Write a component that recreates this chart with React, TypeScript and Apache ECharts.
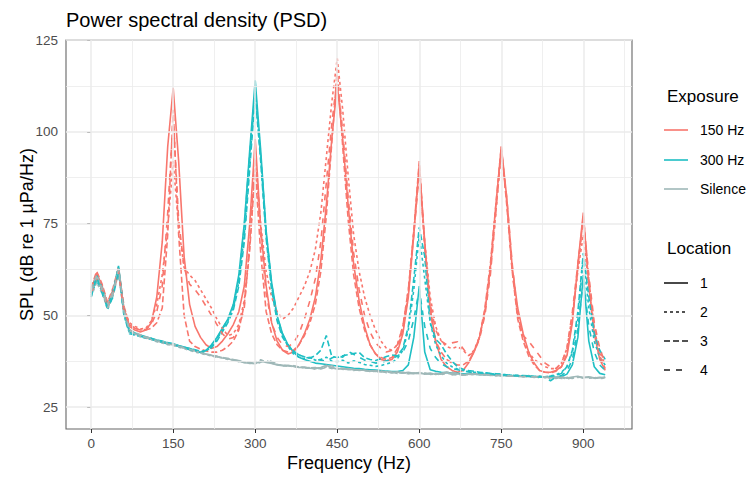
import React, { useEffect, useRef } from "react";
import * as echarts from "echarts";

// Frequency grid (Hz)
const freqHz = [0,10,20,30,40,50,60,70,80,90,100,110,120,130,140,150,160,170,180,190,200,210,220,230,240,250,260,270,280,290,300,310,320,330,340,350,360,370,380,390,400,410,420,430,440,450,460,470,480,490,500,510,520,530,540,550,560,570,580,590,600,610,620,630,640,650,660,670,680,690,700,710,720,730,740,750,760,770,780,790,800,810,820,830,840,850,860,870,880,890,900,910,920,930,940];

const exposures = ["150 Hz", "300 Hz", "Silence"];
const locations = ["1", "2", "3", "4"];

// 150 Hz exposure, SPL (dB re 1 µPa/Hz)
const spl150Loc1 = [
  57, 61.5, 58, 53, 57, 62, 52, 47, 46, 45.5,
  46, 48, 55, 70, 96, 112, 92, 66, 53, 47,
  44, 42, 41, 41.5, 43, 45, 47.5, 51, 58, 75,
  98, 74, 58, 48, 43, 40.5, 39.5, 40, 42, 45,
  49, 55, 65, 80, 98, 113, 98, 80, 64, 54,
  47, 42, 39.5, 38, 37.6, 38, 40, 45, 55, 72,
  91, 70, 52, 43, 38, 36, 35, 34.5, 35, 37,
  40, 44, 51, 63, 80, 96, 82, 63, 52, 45,
  40, 37, 35, 34.5, 34.5, 35, 36, 39, 48, 64,
  78, 58, 45, 38, 35
];
const spl150Loc2 = [
  56.5, 61, 57.5, 52.5, 56.5, 62.5, 51.5, 48, 47, 46.3,
  46.5, 48.5, 53, 61, 74, 92, 74, 63, 61, 59.5,
  57, 54.5, 52, 49, 46.5, 44.5, 45, 47.5, 54, 69,
  92, 75, 62, 55, 51, 49, 50, 52, 55, 58,
  62, 68, 78, 93, 108, 120, 106, 88, 72, 62,
  55, 50, 46, 43, 41, 40.5, 42, 47, 57, 73,
  90, 70, 55, 47, 43, 41.5, 41, 41.5, 40.5, 39,
  40.5, 44, 51, 62, 78, 95, 81, 62, 50, 44,
  40, 38, 37, 36, 35.5, 35.5, 37, 41, 50, 62,
  72, 58, 46, 40, 36.5
];
const spl150Loc3 = [
  57.5, 62, 58.5, 53.5, 57.5, 63, 52.5, 47.5, 46.5, 46,
  46, 46.5, 48, 52, 72, 106, 72, 50, 43, 41.5,
  40.8, 40.3, 40, 40, 40.5, 41.5, 43, 46, 53, 68,
  90, 67, 51, 45, 42, 40.5, 40, 40.5, 42, 44.5,
  48, 53, 62, 77, 97, 117, 96, 76, 61, 52,
  46, 42, 39.5, 38.5, 38, 38.5, 41, 46, 56, 73,
  92, 69, 51, 43, 40, 38, 37, 36.5, 36.5, 37.5,
  40, 44, 52, 64, 80, 96, 80, 62, 49, 43,
  39, 36.5, 35, 34.5, 34.3, 34.8, 36, 39.5, 49, 63,
  77, 60, 46, 39, 35.5
];
const spl150Loc4 = [
  56, 60, 57, 52, 56, 62, 51, 47.5, 46.5, 46,
  46.2, 47.5, 51, 58, 78, 104, 76, 63, 58.5, 57,
  55, 52.5, 50, 47.5, 45, 43.5, 44, 46.5, 52, 70,
  95, 72, 56, 48, 44, 42, 41.5, 42.5, 45, 49,
  54, 60, 70, 86, 102, 115, 100, 82, 67, 57,
  50, 45.5, 42.5, 41, 40, 40.5, 42, 47, 57, 72,
  89, 69, 53, 46, 43, 42, 42.5, 42.8, 41, 39,
  40, 43.5, 50, 61, 78, 95, 82, 64, 50, 44.5,
  43, 41, 39, 37, 36, 35.5, 37, 41, 51, 64,
  76, 61, 48, 41, 37
];

// 300 Hz exposure
const spl300Loc1 = [
  56, 60, 57, 52, 56, 63, 50.5, 45.5, 45, 44.6,
  44.2, 43.7, 43.3, 43, 42.5, 42.3, 41.8, 41.4, 41, 40.5,
  40, 40.5, 42, 44, 46.5, 49, 53, 61, 75, 95,
  114, 95, 73, 59, 50, 45, 42, 40, 38.6, 38,
  37.5, 37, 36.8, 36.6, 36.4, 36.2, 36, 35.8, 35.6, 35.5,
  35.3, 35.2, 35.1, 35, 34.8, 34.7, 34.7, 35, 36.5, 44,
  58, 40, 35.2, 34.8, 34.5, 34.4, 34.3, 34.2, 34.1, 34,
  34, 33.9, 33.9, 33.8, 33.7, 33.7, 33.6, 33.5, 33.5, 33.4,
  33.4, 33.3, 33.3, 33.2, 33.2, 33.1, 33.3, 34, 36.5, 44,
  61, 43, 36, 34.2, 33.8
];
const spl300Loc2 = [
  55.5, 59.5, 56.5, 51.5, 55.5, 62.5, 50, 45.2, 44.6, 44.2,
  43.8, 43.5, 43, 42.6, 42.4, 42, 41.6, 41.2, 40.8, 40.4,
  40, 40.2, 41.5, 43.5, 46, 48.5, 52, 59, 72, 92,
  111, 93, 72, 58, 49.5, 44.5, 41.5, 39.5, 38.6, 38.2,
  38.5, 37.8, 38, 38.6, 37.5, 37.4, 37.8, 37, 37.6, 37.2,
  36.6, 36.4, 36.1, 36.3, 36.8, 37.2, 38.2, 40.5, 46, 57,
  72, 60, 48, 42, 39, 37, 36, 35.4, 35, 34.7,
  34.5, 34.4, 34.3, 34.1, 34, 33.9, 33.8, 33.7, 33.6, 33.5,
  33.4, 33.3, 33.4, 33.3, 33.5, 33.8, 34.5, 36, 40, 49,
  66, 52, 43, 38.5, 36.5
];
const spl300Loc3 = [
  56.5, 61, 57.5, 52.5, 56.5, 63.5, 51, 45.8, 45.2, 44.6,
  44.1, 43.8, 43.2, 42.8, 42.6, 42.1, 41.7, 41.3, 41, 40.6,
  40.2, 40.4, 41.2, 43, 45.5, 48, 51.5, 58, 70, 90,
  110, 92, 71, 57, 48.5, 44, 41.8, 40.3, 39.2, 38.7,
  38.4, 39, 40.5, 44.5, 38.8, 38.5, 39, 39.3, 39.6, 39.9,
  38.5, 38, 37.7, 38.2, 38.8, 39.2, 39, 41, 47, 60,
  74, 66, 48, 43.5, 42, 39.5, 37.5, 36, 35.3, 35,
  34.8, 34.5, 34.4, 34.2, 34.1, 34, 33.8, 33.7, 33.6, 33.6,
  33.5, 33.4, 33.3, 33.2, 33.4, 33.6, 34.2, 36, 40.5, 51,
  67, 55, 45, 40.5, 38
];
const spl300Loc4 = [
  55, 60.5, 56, 52, 55, 62, 50, 45, 44.7, 44.3,
  43.9, 43.4, 43.1, 42.7, 42.2, 42.1, 41.5, 41.1, 40.7, 40.3,
  39.9, 40.3, 41.8, 43.8, 46.2, 49, 52.5, 60, 74, 94,
  112, 94, 72.5, 58.5, 49.8, 44.8, 42, 40, 39.3, 38.4,
  38.5, 38, 37.8, 37.5, 38.4, 39, 38.6, 40.2, 39.4, 38.6,
  37.8, 37.5, 37, 37.2, 37.6, 38.2, 38.9, 40, 43, 49,
  57, 47, 41, 38.5, 36.8, 36, 35.5, 35.2, 34.9, 34.6,
  34.4, 34.3, 34.2, 34.1, 33.9, 33.8, 33.8, 33.6, 33.5, 33.5,
  33.4, 33.2, 33.2, 33.1, 32.2, 33.2, 33.6, 34.8, 38, 46,
  60, 47, 40, 36.5, 35
];

// Silence
const splSilLoc1 = [
  56, 60, 57, 52.5, 56, 62, 51, 46, 45, 44.5,
  44, 43.4, 43.1, 42.6, 42.3, 42, 41.5, 41.2, 40.6, 40.3,
  39.9, 39.4, 39.1, 38.8, 38.4, 38.2, 37.8, 37.6, 37.1, 37,
  36.8, 37.6, 37.2, 36.9, 36.5, 36.3, 36.4, 36.1, 35.8, 35.9,
  35.6, 35.5, 35.8, 36.4, 35.7, 35.4, 35.6, 35.2, 35.3, 35,
  35.1, 34.8, 34.9, 34.6, 34.7, 34.4, 34.6, 34.3, 34.5, 34.2,
  34.4, 34, 34.3, 33.9, 34.2, 34.6, 33.8, 34.1, 33.7, 34,
  34.2, 33.8, 34, 33.6, 33.9, 33.5, 33.8, 33.4, 33.7, 33.3,
  33.6, 33.2, 33.5, 33, 33.4, 33.1, 33.3, 32.9, 33.2, 33.4,
  33, 33.3, 32.9, 33.1, 33
];
const splSilLoc2 = [
  55, 59, 56, 52, 55.5, 61.5, 50.5, 45.5, 44.8, 44.2,
  43.8, 43.5, 42.8, 42.5, 42, 41.8, 41.3, 40.9, 40.5, 40,
  39.6, 39.3, 38.9, 38.6, 38.5, 38, 37.9, 37.4, 37.3, 36.9,
  37.2, 37.9, 37.3, 37, 36.7, 36.2, 36.3, 36, 36, 35.7,
  35.8, 35.3, 35.6, 36, 35.5, 35.6, 35.3, 35.4, 35, 35.2,
  34.9, 35, 34.6, 34.8, 34.5, 34.6, 34.2, 34.4, 34.1, 34.3,
  34.1, 34.3, 33.9, 34.1, 33.8, 34.3, 34, 33.7, 34, 33.8,
  33.9, 34.1, 33.7, 33.9, 33.5, 33.8, 33.4, 33.6, 33.3, 33.5,
  33.2, 33.4, 33, 33.3, 32.8, 33.1, 32.8, 33.1, 32.9, 33.1,
  33.2, 32.9, 33.1, 32.8, 32.9
];
const splSilLoc3 = [
  57, 61, 57.5, 53, 56.5, 62.5, 51.5, 46.2, 45.3, 44.7,
  44.2, 43.7, 43.2, 42.9, 42.4, 42.1, 41.7, 41.1, 40.8, 40.2,
  40, 39.5, 39.2, 38.7, 38.6, 38.1, 38, 37.6, 37.2, 37.1,
  36.9, 37.5, 37.6, 37.1, 36.6, 36.5, 36.2, 36.3, 35.9, 35.8,
  35.7, 35.8, 35.4, 35.9, 36.3, 35.5, 35.4, 35.5, 35.1, 35.2,
  35, 34.9, 34.7, 34.9, 34.4, 34.5, 34.3, 34.5, 34.2, 34.1,
  34.3, 34.1, 34, 34.2, 33.9, 34.4, 34.6, 33.9, 33.8, 33.9,
  34, 33.9, 33.8, 33.7, 33.6, 33.7, 33.5, 33.5, 33.4, 33.4,
  33.3, 33.3, 33.1, 33.2, 33, 32.9, 33, 32.7, 33, 33.2,
  33.1, 33.1, 32.8, 33, 33.1
];
const splSilLoc4 = [
  56.5, 60.5, 57, 52, 56, 62.8, 51, 46, 45, 44.4,
  44, 43.3, 43, 42.7, 42.2, 41.9, 41.6, 41, 40.7, 40.4,
  39.8, 39.5, 39, 38.9, 38.3, 38.3, 37.7, 37.7, 37.2, 37.2,
  36.7, 37.2, 37.8, 37.4, 36.8, 36.4, 36.1, 36.2, 35.9, 35.7,
  35.6, 35.6, 35.7, 35.8, 35.6, 35.8, 35.5, 35.2, 35.2, 35.1,
  35, 34.7, 34.8, 34.7, 34.6, 34.4, 34.5, 34.3, 34.3, 34.2,
  34.2, 34.2, 34.1, 34, 34, 34.1, 34.3, 34, 33.9, 33.7,
  34.1, 33.7, 33.9, 33.8, 33.7, 33.6, 33.6, 33.5, 33.5, 33.2,
  33.4, 33.1, 33.3, 33.1, 33.2, 32.8, 33.1, 33, 32.8, 33.3,
  32.9, 33.2, 33, 32.9, 33.2
];

const xTicks = [0, 150, 300, 450, 600, 750, 900];
const xMinorGrid = [75, 225, 375, 525, 675, 825, 975];
const yTicks = [25, 50, 75, 100, 125];
const yMinorGrid = [37.5, 62.5, 87.5, 112.5];

const exposureColors = ["#F8766D", "#1FBFC4", "#9FB8B8"];
const locationDash: (number[] | "solid")[] = ["solid", [3, 3], [6, 3], [6, 6]];

const seriesTable: number[][][] = [
  [spl150Loc1, spl150Loc2, spl150Loc3, spl150Loc4],
  [spl300Loc1, spl300Loc2, spl300Loc3, spl300Loc4],
  [splSilLoc1, splSilLoc2, splSilLoc3, splSilLoc4],
];

const FONT = "'Liberation Sans', Arial, Helvetica, sans-serif";

export default function App() {
  const ref = useRef<HTMLDivElement>(null);
  useEffect(() => {
    if (!ref.current) return;
    const chart = echarts.init(ref.current, null, { renderer: "svg" });

    const dataSeries: any[] = [];
    locations.forEach((loc, li) => {
      exposures.forEach((exp, ei) => {
        const vals = seriesTable[ei][li];
        dataSeries.push({
          name: exp + " / " + loc,
          type: "line",
          data: freqHz.map((f, i) => [f, vals[i]]),
          showSymbol: false,
          symbol: "none",
          z: 3,
          lineStyle: {
            color: exposureColors[ei],
            width: 1.6,
            type: locationDash[li],
          },
          silent: true,
        });
      });
    });

    const gridSeries = {
      type: "line",
      data: [],
      z: 1,
      silent: true,
      markLine: {
        silent: true,
        symbol: ["none", "none"],
        label: { show: false },
        animation: false,
        data: [
          ...xMinorGrid.map((v) => ({ xAxis: v, lineStyle: { color: "#EBEBEB", width: 0.8, type: "solid" } })),
          ...yMinorGrid.map((v) => ({ yAxis: v, lineStyle: { color: "#EBEBEB", width: 0.8, type: "solid" } })),
          ...xTicks.map((v) => ({ xAxis: v, lineStyle: { color: "#EBEBEB", width: 1.5, type: "solid" } })),
          ...yTicks.map((v) => ({ yAxis: v, lineStyle: { color: "#EBEBEB", width: 1.5, type: "solid" } })),
        ],
      },
    };

    const legendGraphics: any[] = [];
    legendGraphics.push({
      type: "text",
      left: 667,
      top: 88,
      style: { text: "Exposure", font: `17px ${FONT}`, fill: "#000" },
    });
    const expY = [130, 160, 189];
    exposures.forEach((exp, i) => {
      legendGraphics.push({
        type: "line",
        shape: { x1: 664, y1: expY[i], x2: 688, y2: expY[i] },
        style: { stroke: exposureColors[i], lineWidth: 1.6 },
      });
      legendGraphics.push({
        type: "text",
        x: 700,
        y: expY[i],
        style: { text: exp, font: `14px ${FONT}`, fill: "#000", verticalAlign: "middle" },
      });
    });
    legendGraphics.push({
      type: "text",
      left: 667,
      top: 240,
      style: { text: "Location", font: `17px ${FONT}`, fill: "#000" },
    });
    const locY = [283, 312, 341, 370];
    locations.forEach((loc, i) => {
      legendGraphics.push({
        type: "line",
        shape: { x1: 664, y1: locY[i], x2: 688, y2: locY[i] },
        style: {
          stroke: "#1a1a1a",
          lineWidth: 1.6,
          lineDash: locationDash[i] === "solid" ? null : locationDash[i],
        },
      });
      legendGraphics.push({
        type: "text",
        x: 700,
        y: locY[i],
        style: { text: loc, font: `14px ${FONT}`, fill: "#000", verticalAlign: "middle" },
      });
    });

    chart.setOption({
      animation: false,
      backgroundColor: "#fff",
      textStyle: { fontFamily: FONT },
      title: {
        text: "Power spectral density (PSD)",
        left: 61,
        top: 5,
        textStyle: { fontSize: 20, fontWeight: "normal", color: "#000", fontFamily: FONT },
      },
      grid: {
        left: 66,
        right: 118,
        top: 40,
        bottom: 45,
        show: true,
        borderColor: "#666",
        borderWidth: 1.1,
        backgroundColor: "#fff",
        containLabel: false,
      },
      xAxis: {
        type: "value",
        min: -46,
        max: 989,
        name: "Frequency (Hz)",
        nameLocation: "middle",
        nameGap: 25,
        nameMoveOverlap: false,
        nameTextStyle: { fontSize: 18, color: "#000", fontFamily: FONT },
        axisLine: { show: false },
        axisTick: { show: true, customValues: xTicks, length: 4, lineStyle: { color: "#333", width: 1 } },
        axisLabel: { customValues: xTicks, color: "#4D4D4D", fontSize: 13.5, margin: 7, fontFamily: FONT },
        splitLine: { show: false },
      },
      yAxis: {
        type: "value",
        min: 19.05,
        max: 125,
        name: "SPL (dB re 1 µPa/Hz)",
        nameLocation: "middle",
        nameRotate: 90,
        nameGap: 30,
        nameMoveOverlap: false,
        nameTextStyle: { fontSize: 18, color: "#000", fontFamily: FONT },
        axisLine: { show: false },
        axisTick: { show: true, customValues: yTicks, length: 4, lineStyle: { color: "#333", width: 1 } },
        axisLabel: { customValues: yTicks, color: "#4D4D4D", fontSize: 13.5, margin: 8, fontFamily: FONT },
        splitLine: { show: false },
      },
      series: [gridSeries, ...dataSeries],
      graphic: legendGraphics,
    });

    return () => chart.dispose();
  }, []);

  return (
    <div
      ref={ref}
      style={{ position: "fixed", left: 0, top: 0, width: 750, height: 477 }}
    />
  );
}
